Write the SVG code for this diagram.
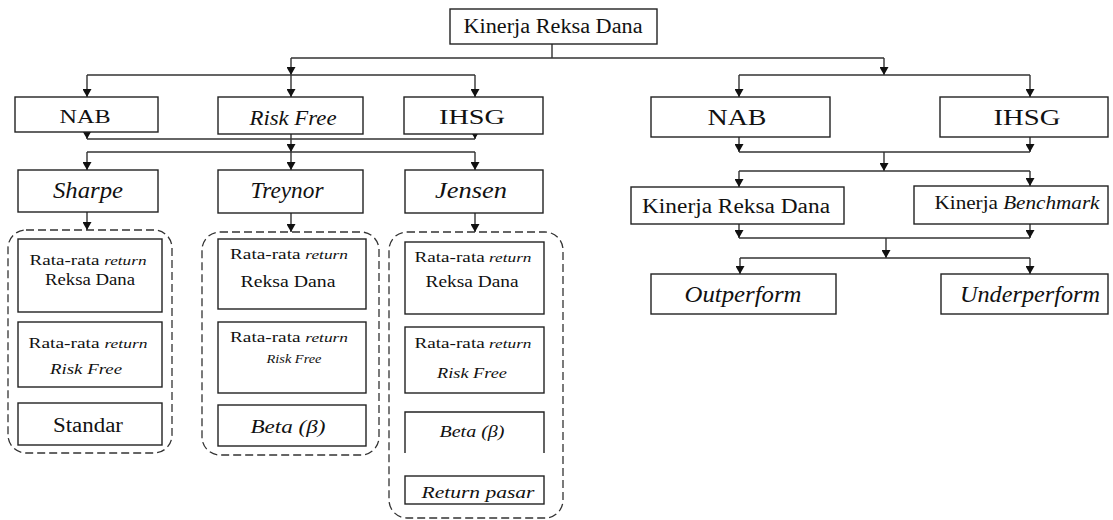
<svg xmlns="http://www.w3.org/2000/svg" width="1113" height="520" viewBox="0 0 1113 520">
<defs>
<marker id="ah" viewBox="0 0 8 9" refX="8" refY="4.5" markerWidth="8" markerHeight="9" markerUnits="userSpaceOnUse" orient="auto">
<path d="M0,0 L8,4.5 L0,9 Z" fill="#111"/>
</marker>
<style>
.b{fill:#fff;stroke:#222;stroke-width:1.4}
.d{fill:none;stroke:#333;stroke-width:1.3;stroke-dasharray:8 4}
.o{fill:none;stroke:#222;stroke-width:1.4}
.c path{fill:none;stroke:#333;stroke-width:1.4}
.a{marker-end:url(#ah)}
text{font-family:"Liberation Serif","DejaVu Serif",serif;fill:#111;text-anchor:middle}
.i{font-style:italic}
.s{font-size:15px}
.r{font-size:13.5px;font-style:italic}
</style>
</defs>
<rect width="1113" height="520" fill="#fff"/>

<g class="c" id="connectors">
<path d="M552,44 V58 M291,58 H884"/>
<path class="a" d="M291,58 V75"/>
<path class="a" d="M884,58 V75"/>
<path d="M87,75 H475 M739,75 H1030"/>
<path class="a" d="M87,75 V97"/>
<path class="a" d="M291,75 V97"/>
<path class="a" d="M475,75 V97"/>
<path class="a" d="M739,75 V97"/>
<path class="a" d="M1030,75 V97"/>
<path class="a" d="M87,132 V139"/>
<path class="a" d="M475,134 V139"/>
<path d="M87,139 H475"/>
<path class="a" d="M291,134 V152"/>
<path d="M87,152 H475"/>
<path class="a" d="M87,152 V170"/>
<path class="a" d="M291,152 V170"/>
<path class="a" d="M475,152 V170"/>
<path class="a" d="M87,212 V230"/>
<path class="a" d="M291,212 V232"/>
<path class="a" d="M475,212 V232"/>
<path class="a" d="M739,137 V152"/>
<path class="a" d="M1030,137 V152"/>
<path d="M739,152 H1030"/>
<path class="a" d="M884,152 V171"/>
<path d="M739,171 H1030"/>
<path class="a" d="M739,171 V187"/>
<path class="a" d="M1030,171 V186"/>
<path class="a" d="M739,224 V238"/>
<path class="a" d="M1030,224 V238"/>
<path d="M739,238 H1030"/>
<path class="a" d="M886,238 V258"/>
<path d="M740,258 H1030"/>
<path class="a" d="M740,258 V274"/>
<path class="a" d="M1030,258 V274"/>
</g>

<g id="kinerja-top"><rect class="b" x="450" y="9" width="207" height="35"/><text x="553" y="33" font-size="20" textLength="179" lengthAdjust="spacingAndGlyphs">Kinerja Reksa Dana</text></g>

<g id="nab-l"><rect class="b" x="15" y="97" width="143" height="35"/><text x="85" y="123" font-size="19" textLength="51" lengthAdjust="spacingAndGlyphs">NAB</text></g>
<g id="riskfree"><rect class="b" x="218" y="97" width="145" height="37"/><text class="i" x="293" y="125" font-size="21" textLength="87" lengthAdjust="spacingAndGlyphs">Risk Free</text></g>
<g id="ihsg-l"><rect class="b" x="404" y="97" width="139" height="37"/><text x="472" y="124" font-size="21" textLength="66" lengthAdjust="spacingAndGlyphs">IHSG</text></g>

<g id="nab-r"><rect class="b" x="651" y="97" width="179" height="40"/><text x="737" y="125" font-size="23" textLength="59" lengthAdjust="spacingAndGlyphs">NAB</text></g>
<g id="ihsg-r"><rect class="b" x="940" y="97" width="168" height="40"/><text x="1027" y="125" font-size="23" textLength="67" lengthAdjust="spacingAndGlyphs">IHSG</text></g>

<g id="sharpe"><rect class="b" x="18" y="170" width="140" height="42"/><text class="i" x="88" y="198" font-size="23" textLength="70" lengthAdjust="spacingAndGlyphs">Sharpe</text></g>
<g id="treynor"><rect class="b" x="218" y="170" width="145" height="43"/><text class="i" x="287" y="198" font-size="23" textLength="73" lengthAdjust="spacingAndGlyphs">Treynor</text></g>
<g id="jensen"><rect class="b" x="405" y="170" width="138" height="43"/><text class="i" x="471" y="198" font-size="23" textLength="72" lengthAdjust="spacingAndGlyphs">Jensen</text></g>

<g id="sharpe-group">
<rect class="d" x="8" y="230" width="164" height="223" rx="18"/>
<rect class="b" x="18" y="239" width="144" height="73"/>
<text class="s" x="88" y="265" textLength="117" lengthAdjust="spacingAndGlyphs">Rata-rata <tspan class="r">return</tspan></text>
<text x="90" y="285" font-size="16" textLength="90" lengthAdjust="spacingAndGlyphs">Reksa Dana</text>
<rect class="b" x="18" y="322" width="144" height="65"/>
<text class="s" x="88" y="348" textLength="119" lengthAdjust="spacingAndGlyphs">Rata-rata <tspan class="r">return</tspan></text>
<text class="i" x="86" y="374" font-size="15" textLength="72" lengthAdjust="spacingAndGlyphs">Risk Free</text>
<rect class="b" x="18" y="403" width="144" height="42"/>
<text x="88" y="432" font-size="20" textLength="70" lengthAdjust="spacingAndGlyphs">Standar</text>
</g>

<g id="treynor-group">
<rect class="d" x="202" y="232" width="177" height="223" rx="18"/>
<rect class="b" x="218" y="239" width="148" height="70"/>
<text class="s" x="289" y="259" textLength="118" lengthAdjust="spacingAndGlyphs">Rata-rata <tspan class="r">return</tspan></text>
<text x="288" y="287" font-size="16" textLength="95" lengthAdjust="spacingAndGlyphs">Reksa Dana</text>
<rect class="b" x="218" y="322" width="148" height="71"/>
<text class="s" x="289" y="342" textLength="118" lengthAdjust="spacingAndGlyphs">Rata-rata <tspan class="r">return</tspan></text>
<text class="i" x="294" y="363" font-size="13" textLength="55" lengthAdjust="spacingAndGlyphs">Risk Free</text>
<rect class="b" x="218" y="405" width="148" height="41"/>
<text class="i" x="288" y="433" font-size="18" textLength="75" lengthAdjust="spacingAndGlyphs">Beta (β)</text>
</g>

<g id="jensen-group">
<rect class="d" x="389" y="232" width="174" height="286" rx="18"/>
<rect class="b" x="405" y="242" width="139" height="72"/>
<text class="s" x="473" y="262" textLength="117" lengthAdjust="spacingAndGlyphs">Rata-rata<tspan class="r"> return</tspan></text>
<text x="472" y="287" font-size="16" textLength="93" lengthAdjust="spacingAndGlyphs">Reksa Dana</text>
<rect class="b" x="405" y="327" width="139" height="66"/>
<text class="s" x="473" y="348" textLength="117" lengthAdjust="spacingAndGlyphs">Rata-rata<tspan class="r"> return</tspan></text>
<text class="i" x="472" y="378" font-size="15" textLength="70" lengthAdjust="spacingAndGlyphs">Risk Free</text>
<path class="o" d="M405,453 V412 H544 V453"/>
<text class="i" x="472" y="437" font-size="17" textLength="65" lengthAdjust="spacingAndGlyphs">Beta (β)</text>
<rect class="b" x="405" y="476" width="139" height="28"/>
<text class="i" x="478" y="498" font-size="16" textLength="113" lengthAdjust="spacingAndGlyphs">Return pasar</text>
</g>

<g id="kinerja-rd"><rect class="b" x="631" y="187" width="213" height="37"/><text x="736" y="213" font-size="20" textLength="188" lengthAdjust="spacingAndGlyphs">Kinerja Reksa Dana</text></g>
<g id="kinerja-bm"><rect class="b" x="914" y="186" width="194" height="38"/><text x="1017" y="209" font-size="18" textLength="165" lengthAdjust="spacingAndGlyphs">Kinerja <tspan class="i">Benchmark</tspan></text></g>
<g id="outperform"><rect class="b" x="651" y="274" width="185" height="40"/><text class="i" x="743" y="302" font-size="23" textLength="117" lengthAdjust="spacingAndGlyphs">Outperform</text></g>
<g id="underperform"><rect class="b" x="941" y="274" width="167" height="40"/><text class="i" x="1030" y="302" font-size="23" textLength="140" lengthAdjust="spacingAndGlyphs">Underperform</text></g>
</svg>
